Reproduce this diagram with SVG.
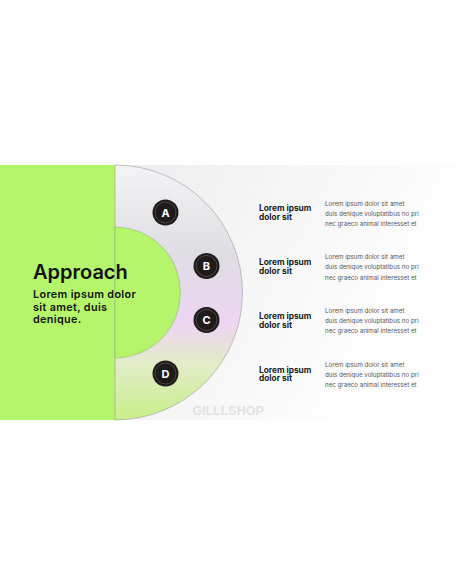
<svg xmlns="http://www.w3.org/2000/svg" width="456" height="586" viewBox="0 0 456 586">
<defs>
<linearGradient id="bg" x1="0" y1="0" x2="1" y2="0.3">
<stop offset="0" stop-color="#e8e8ea"/>
<stop offset="1" stop-color="#ffffff"/>
</linearGradient>
<linearGradient id="disc" x1="0" y1="0" x2="0" y2="1">
<stop offset="0" stop-color="#f4f4f5"/>
<stop offset="0.35" stop-color="#dedde2"/>
<stop offset="0.62" stop-color="#edd5f3"/>
<stop offset="0.78" stop-color="#e2ecc8"/>
<stop offset="1" stop-color="#c8ef88"/>
</linearGradient>
<style>
.badge circle.o{fill:#1f1b1b}
.badge circle.i{fill:none;stroke:#5e5858;stroke-width:0.7}
.badge text{font-family:Inter,"Liberation Sans",sans-serif;font-weight:700;font-size:11px;fill:#ffffff;text-anchor:middle}
.t{font-family:Inter,"Liberation Sans",sans-serif;font-weight:700;font-size:8.3px;fill:#1a1a1a}
.b{font-family:Inter,"Liberation Sans",sans-serif;font-weight:400;font-size:6.2px;fill:#555555}
</style>
</defs>
<rect x="0" y="0" width="456" height="586" fill="#ffffff"/>
<rect x="0" y="165" width="456" height="255" fill="url(#bg)"/>
<rect x="0" y="165" width="115" height="255" fill="#b5f56b"/>
<path d="M115 165 A127.5 127.5 0 0 1 115 420 Z" fill="url(#disc)" stroke="#9a9a9e" stroke-width="0.6"/>
<path d="M115 227 A65.5 65.5 0 0 1 115 358 Z" fill="#b5f56b" stroke="#8fa870" stroke-width="0.5"/>
<g id="title">
<text x="33" y="279" font-family="Inter,'Liberation Sans',sans-serif" font-weight="600" font-size="20" fill="#111111">Approach</text>
<text font-family="Inter,'Liberation Sans',sans-serif" font-weight="600" font-size="10.8" letter-spacing="0.35" fill="#111111"><tspan x="33" y="298">Lorem ipsum dolor</tspan><tspan x="33" y="310.5">sit amet, duis</tspan><tspan x="33" y="323">denique.</tspan></text>
</g>
<g id="nodeA" class="badge"><circle class="o" cx="165.5" cy="212.5" r="13"/><circle class="i" cx="165.5" cy="212.5" r="10.5"/><text x="165.5" y="216.5">A</text></g>
<g id="nodeB" class="badge"><circle class="o" cx="206.5" cy="266" r="13"/><circle class="i" cx="206.5" cy="266" r="10.5"/><text x="206.5" y="270">B</text></g>
<g id="nodeC" class="badge"><circle class="o" cx="206.5" cy="320" r="13"/><circle class="i" cx="206.5" cy="320" r="10.5"/><text x="206.5" y="324">C</text></g>
<g id="nodeD" class="badge"><circle class="o" cx="165.5" cy="373.5" r="13"/><circle class="i" cx="165.5" cy="373.5" r="10.5"/><text x="165.5" y="377.5">D</text></g>
<g id="item1">
<text class="t"><tspan x="259" y="211">Lorem ipsum</tspan><tspan x="259" y="220">dolor sit</tspan></text>
<text class="b"><tspan x="325" y="206">Lorem ipsum dolor sit amet</tspan><tspan x="325" y="216">duis denique voluptatibus no pri</tspan><tspan x="325" y="226">nec graeco animal interesset et</tspan></text>
</g>
<g id="item2">
<text class="t"><tspan x="259" y="265">Lorem ipsum</tspan><tspan x="259" y="274">dolor sit</tspan></text>
<text class="b"><tspan x="325" y="259">Lorem ipsum dolor sit amet</tspan><tspan x="325" y="269">duis denique voluptatibus no pri</tspan><tspan x="325" y="279.5">nec graeco animal interesset et</tspan></text>
</g>
<g id="item3">
<text class="t"><tspan x="259" y="318.5">Lorem ipsum</tspan><tspan x="259" y="327.5">dolor sit</tspan></text>
<text class="b"><tspan x="325" y="313">Lorem ipsum dolor sit amet</tspan><tspan x="325" y="323">duis denique voluptatibus no pri</tspan><tspan x="325" y="333">nec graeco animal interesset et</tspan></text>
</g>
<g id="item4">
<text class="t"><tspan x="259" y="372.5">Lorem ipsum</tspan><tspan x="259" y="381">dolor sit</tspan></text>
<text class="b"><tspan x="325" y="366.5">Lorem ipsum dolor sit amet</tspan><tspan x="325" y="376.5">duis denique voluptatibus no pri</tspan><tspan x="325" y="386.5">nec graeco animal interesset et</tspan></text>
</g>
<g id="connectors"></g>
<text x="228" y="415" text-anchor="middle" font-family="'Liberation Sans',sans-serif" font-weight="700" font-size="12.5" fill="#e2e2e4">GILLLSHOP</text>
</svg>
